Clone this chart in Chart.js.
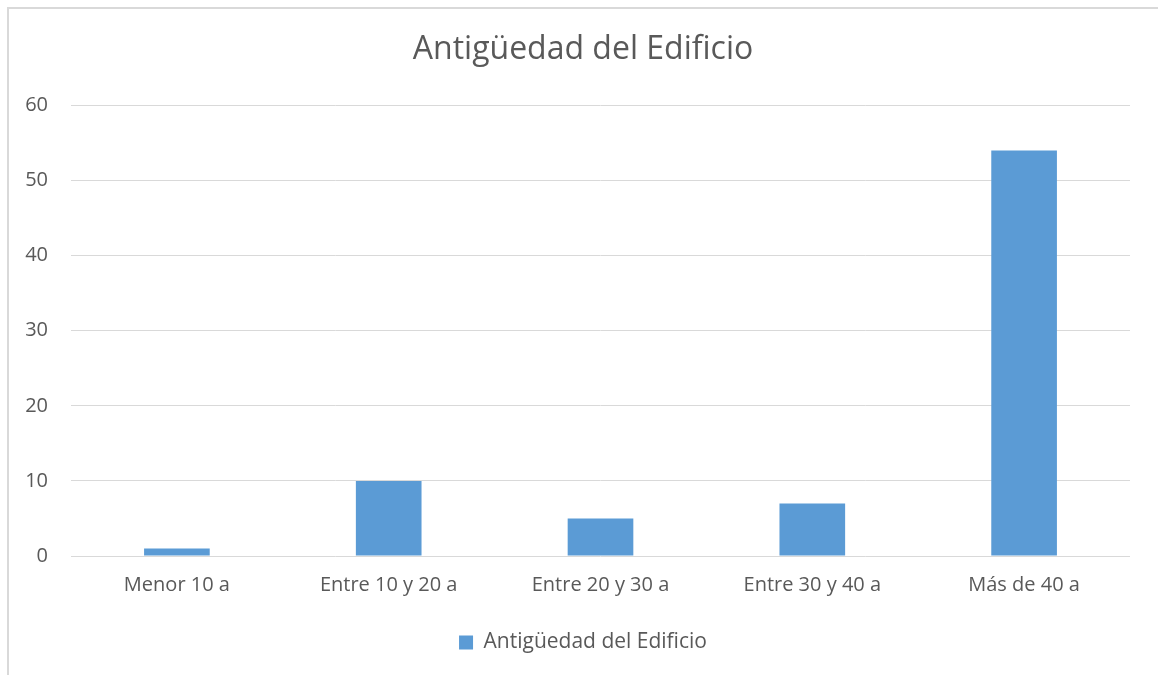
<!DOCTYPE html>
<html>
<head>
<meta charset="utf-8">
<script src="https://cdn.jsdelivr.net/npm/chart.js@4"></script>
<style>
  html, body { margin: 0; padding: 0; background: #fff; }
  #wrap { position: relative; width: 1158px; height: 675px; overflow: hidden; }
  #frame { position: absolute; left: 7px; top: 7px; width: 1200px; height: 700px;
           border-left: 2px solid #d9d9d9; border-top: 2px solid #d9d9d9; }
  canvas { position: absolute; left: 0; top: 0; }
</style>
</head>
<body>
<div id="wrap">
  <div id="frame"></div>
  <canvas id="chart" width="1158" height="675"></canvas>
</div>
<script>
// 数据
const categories = ['Menor 10 a', 'Entre 10 y 20 a', 'Entre 20 y 30 a', 'Entre 30 y 40 a', 'Más de 40 a'];
const values = [1, 10, 5, 7, 54];
const seriesName = 'Antigüedad del Edificio';
const yTicks = [0, 10, 20, 30, 40, 50, 60];

const textColor = '#595959';
const barColor = '#5B9BD5';
const fontFamily = "'Open Sans', 'Noto Sans', sans-serif";

const ctx = document.getElementById('chart').getContext('2d');
new Chart(ctx, {
  type: 'bar',
  data: {
    labels: categories,
    datasets: [{
      label: seriesName,
      data: values,
      backgroundColor: barColor,
      barPercentage: 0.31,
      categoryPercentage: 1
    }]
  },
  options: {
    responsive: false,
    animation: false,
    layout: { padding: { left: 36, right: 28, top: 0, bottom: 12 } },
    plugins: {
      title: {
        display: true,
        text: 'Antigüedad del Edificio',
        color: textColor,
        font: { family: fontFamily, size: 32, weight: 'normal', lineHeight: 1.2 },
        padding: { top: 31, bottom: 36 }
      },
      legend: {
        position: 'bottom',
        labels: {
          color: textColor,
          font: { family: fontFamily, size: 21 },
          boxWidth: 14,
          boxHeight: 14,
          padding: 10
        }
      },
      tooltip: { enabled: false }
    },
    scales: {
      x: {
        grid: { display: false },
        border: { display: false },
        ticks: { color: textColor, font: { family: fontFamily, size: 20 }, padding: 9 },
        afterFit: scale => { scale.height = 66; }
      },
      y: {
        min: 0,
        max: 60,
        afterBuildTicks: scale => { scale.ticks = yTicks.map(v => ({ value: v })); },
        grid: { color: '#d9d9d9', lineWidth: 1, drawTicks: false },
        border: { display: false },
        ticks: { color: textColor, font: { family: fontFamily, size: 20 }, padding: 23 },
        afterFit: scale => {
          scale.width = 35;
          // 标签超出轴宽，不裁剪
          scale._computeLabelArea = () => ({ top: 0, left: 0, bottom: scale.chart.height, right: scale.right });
        }
      }
    }
  }
});
</script>
</body>
</html>
